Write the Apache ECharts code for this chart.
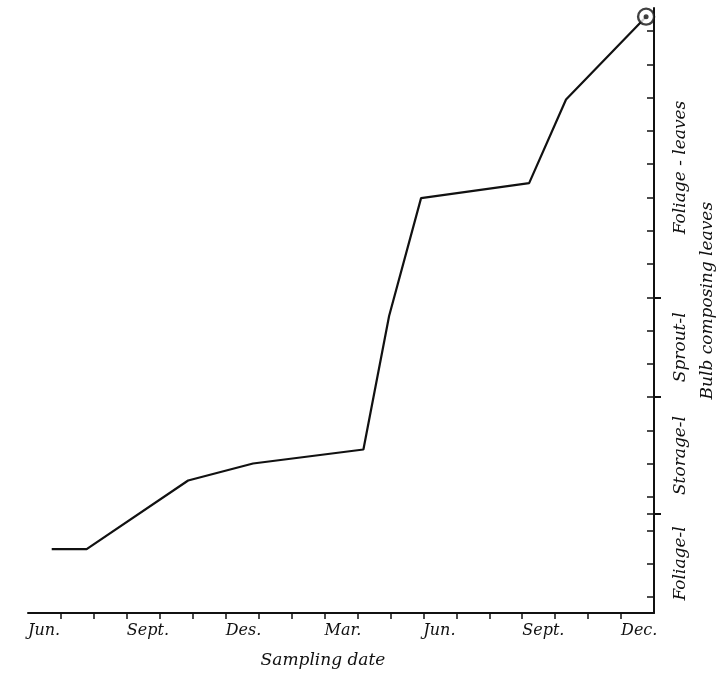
<!DOCTYPE html>
<html><head><meta charset="utf-8">
<script src="https://cdn.jsdelivr.net/npm/echarts@6/dist/echarts.min.js"></script>
<style>html,body{margin:0;padding:0;background:#fff}#c{width:723px;height:674px}</style>
</head><body><div id="c"></div>
<script>
// sampling dates, in months counted from the first June
const sampleMonths = [0.72, 1.78, 4.86, 6.83, 10.18, 10.96, 11.93, 15.21, 16.33, 18.76];
// position of the newest leaf on the bulb-leaf ruler (ruler units)
const leafPosition = [1.44, 1.44, 3.50, 4.01, 4.43, 8.44, 11.98, 12.43, 14.94, 17.43];

const monthTickValues = [1,2,3,4,5,6,7,8,9,10,11,12,13,14,15,16,17,18];
const monthLabelValues = [0, 3, 6, 9, 12, 15, 18];
const monthLabels = ['Jun.', 'Sept.', 'Des.', 'Mar.', 'Jun.', 'Sept.', 'Dec.'];
const rulerTicks = [0,1,2,3,4,5,6,7,8,9,10,11,12,13,14,15,16,17];
const zoneBoundaries = [2.5, 6, 9];
const zoneLabels = ['Foliage-l', 'Storage-l', 'Sprout-l', 'Foliage - leaves'];
const groupLabel = 'Bulb composing leaves';
const xAxisTitle = 'Sampling date';

const Y_MIN = -0.48, Y_MAX = 17.69, X_MIN = 0, X_MAX = 19;
const FONT = '"DejaVu Serif", "Liberation Serif", serif';
const INK = '#111';

const chart = echarts.init(document.getElementById('c'), null, {renderer: 'canvas'});
const points = sampleMonths.map((m, i) => [m, leafPosition[i]]);
const last = points[points.length - 1];

const gridRect = {left: 28, right: 69, top: 8, bottom: 61, containLabel: false, outerBoundsMode: 'none'};
const yBase = {
  type: 'value', position: 'right', min: Y_MIN, max: Y_MAX, offset: 0,
  splitLine: {show: false}, axisLabel: {show: false}
};

chart.setOption({
  animation: false,
  backgroundColor: '#fff',
  grid: [Object.assign({}, gridRect), Object.assign({}, gridRect)],
  xAxis: [{
    type: 'value', gridIndex: 0, min: X_MIN, max: X_MAX,
    axisLine: {show: true, onZero: false, lineStyle: {color: INK, width: 2}},
    axisTick: {show: true, inside: false, length: 6, customValues: monthTickValues, lineStyle: {color: INK, width: 1.5}},
    axisLabel: {
      show: true, customValues: monthLabelValues, align: 'left', margin: 10,
      color: INK, fontFamily: FONT, fontStyle: 'italic', fontSize: 16,
      formatter: v => monthLabels[monthLabelValues.indexOf(v)] || ''
    },
    splitLine: {show: false}
  }, {
    type: 'value', gridIndex: 1, min: X_MIN, max: X_MAX, show: false
  }],
  yAxis: [
    Object.assign({}, yBase, {
      gridIndex: 0,
      axisLine: {show: true, onZero: false, lineStyle: {color: INK, width: 2}},
      axisTick: {show: true, inside: true, length: 7, customValues: rulerTicks.concat(zoneBoundaries), lineStyle: {color: INK, width: 1.5}}
    }),
    Object.assign({}, yBase, {
      gridIndex: 1,
      axisLine: {show: false, onZero: false},
      axisTick: {show: true, inside: false, length: 7, customValues: zoneBoundaries, lineStyle: {color: INK, width: 2}}
    })
  ],
  series: [
    {type: 'line', data: points, xAxisIndex: 0, yAxisIndex: 0, symbol: 'none', smooth: false,
     lineStyle: {color: INK, width: 2.2}, z: 2},
    {type: 'scatter', data: [last], xAxisIndex: 0, yAxisIndex: 0, symbol: 'circle', symbolSize: 16,
     itemStyle: {color: '#fff', borderColor: INK, borderWidth: 2.4}, z: 3},
    {type: 'scatter', data: [last], xAxisIndex: 0, yAxisIndex: 0, symbol: 'circle', symbolSize: 5,
     itemStyle: {color: INK}, z: 4}
  ]
});

// zone labels placed at the middle of each zone of the ruler
const edges = [Y_MIN].concat(zoneBoundaries, [Y_MAX]);
const textStyle = {fill: INK, fontFamily: FONT, fontStyle: 'italic', fontSize: 17, align: 'center', verticalAlign: 'middle'};
const graphics = zoneLabels.map((t, i) => {
  let mid = (edges[i] + edges[i + 1]) / 2;
  if (i === zoneLabels.length - 1) mid = 12.9;
  const py = chart.convertToPixel({yAxisIndex: 0}, mid);
  return {type: 'text', x: 681, y: py, rotation: Math.PI / 2, style: Object.assign({text: t}, textStyle)};
});
graphics.push({type: 'text', x: 708, y: chart.convertToPixel({yAxisIndex: 0}, 8.9), rotation: Math.PI / 2,
  style: Object.assign({text: groupLabel}, textStyle)});
graphics.push({type: 'text', x: 323, y: 661, style: Object.assign({text: xAxisTitle}, textStyle)});
chart.setOption({graphic: graphics});
</script>
</body></html>
